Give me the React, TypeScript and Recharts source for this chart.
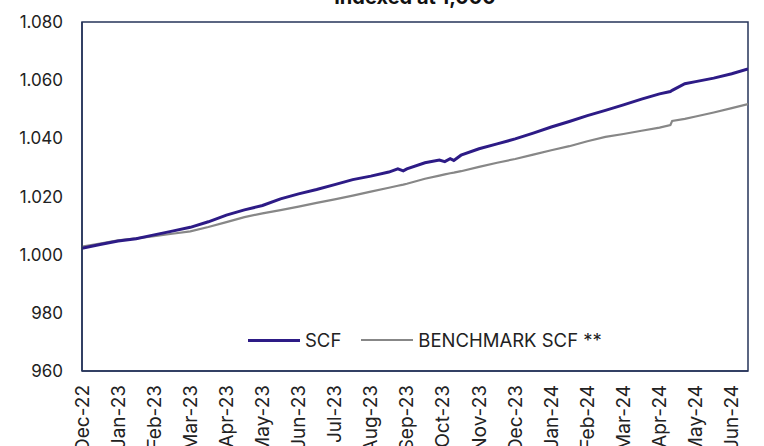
import React from 'react';
import {
  LineChart,
  Line,
  XAxis,
  YAxis,
  ReferenceArea,
} from 'recharts';

// month labels, one per tick (tick index = month offset from Dec-22)
const monthLabels = [
  'Dec-22', 'Jan-23', 'Feb-23', 'Mar-23', 'Apr-23', 'May-23', 'Jun-23',
  'Jul-23', 'Aug-23', 'Sep-23', 'Oct-23', 'Nov-23', 'Dec-23', 'Jan-24',
  'Feb-24', 'Mar-24', 'Apr-24', 'May-24', 'Jun-24',
];

// sample positions in months since Dec-22
const monthPos = [
  0, 0.5, 1, 1.5, 2, 2.5, 3, 3.5, 4, 4.5, 5, 5.5, 6, 6.5, 7, 7.5, 8, 8.5,
  8.75, 8.9, 9, 9.5, 9.9, 10.05, 10.2, 10.3, 10.5, 11, 11.5, 12, 12.5, 13,
  13.5, 14, 14.5, 15, 15.5, 16, 16.3, 16.35, 16.7, 17, 17.5, 18, 18.45,
];

const scfValues = [
  1002.2, 1003.5, 1004.7, 1005.5, 1006.8, 1008.1, 1009.4, 1011.3, 1013.6,
  1015.4, 1016.9, 1019.2, 1020.9, 1022.4, 1024.1, 1025.8, 1027.0, 1028.4,
  1029.5, 1028.8, 1029.5, 1031.6, 1032.5, 1032.0, 1033.0, 1032.4, 1034.2,
  1036.4, 1038.1, 1039.8, 1041.8, 1043.9, 1045.8, 1047.8, 1049.6, 1051.5,
  1053.5, 1055.3, 1056.1, 1056.5, 1058.8, 1059.5, 1060.7, 1062.2, 1063.9,
];

const benchValues = [
  1002.8, 1003.8, 1004.9, 1005.6, 1006.4, 1007.2, 1008.0, 1009.5, 1011.2,
  1012.9, 1014.2, 1015.3, 1016.5, 1017.8, 1019.0, 1020.3, 1021.7, 1023.0,
  1023.7, 1024.1, 1024.4, 1026.1, 1027.2, 1027.6, 1028.0, 1028.2, 1028.7,
  1030.2, 1031.6, 1032.9, 1034.4, 1035.9, 1037.3, 1039.0, 1040.5, 1041.5,
  1042.6, 1043.7, 1044.6, 1046.0, 1046.7, 1047.5, 1048.9, 1050.4, 1051.8,
];

const yTicks = [960, 980, 1000, 1020, 1040, 1060, 1080];

const data = monthPos.map((m, i) => ({
  m,
  scf: scfValues[i],
  bench: benchValues[i],
}));

const FRAME = '#26345a';
const SCF_COLOR = '#2d1b86';
const BENCH_COLOR = '#878787';
const FONT = 'Inter, "Liberation Sans", Arial, sans-serif';

function formatY(v: number) {
  if (v >= 1000) return `1.${String(v - 1000).padStart(3, '0')}`;
  return String(v);
}

function MonthTick({ x, y, payload }: any) {
  const ty = y + 12;
  return (
    <text
      x={x}
      y={ty}
      transform={`rotate(-90 ${x} ${ty})`}
      textAnchor="end"
      dominantBaseline="central"
      fontSize={19}
      fontFamily={FONT}
      fill="#222"
    >
      {monthLabels[payload.value]}
    </text>
  );
}

// legend drawn as plain html so it doesn't steal room from the plot
function LegendBox() {
  const items = [
    { label: 'SCF', color: SCF_COLOR, w: 3 },
    { label: 'BENCHMARK SCF **', color: BENCH_COLOR, w: 2.2 },
  ];
  return (
    <div style={{ position: 'absolute', left: 248, top: 330, display: 'flex', alignItems: 'center', gap: 20, fontFamily: FONT, fontSize: 18.5, lineHeight: '20px', color: '#222' }}>
      {items.map((it) => (
        <div key={it.label} style={{ display: 'flex', alignItems: 'center', gap: 5 }}>
          <div style={{ width: 52, height: it.w, background: it.color }} />
          <span>{it.label}</span>
        </div>
      ))}
    </div>
  );
}

export default function App() {
  return (
    <div style={{ position: 'absolute', left: 0, top: 0, width: 764, height: 446, background: '#fff', overflow: 'hidden' }}>
      <LineChart
        width={764}
        height={446}
        data={data}
        margin={{ top: 22, right: 16, left: 0, bottom: 0 }}
      >
        <XAxis
          dataKey="m"
          type="number"
          domain={[0, 18.45]}
          ticks={monthLabels.map((_, i) => i)}
          interval={0}
          allowDataOverflow
          height={75}
          tickLine={false}
          tickSize={0}
          axisLine={{ stroke: FRAME, strokeWidth: 1.5 }}
          tick={<MonthTick />}
        />
        <YAxis
          domain={[960, 1080]}
          ticks={yTicks}
          interval={0}
          width={82}
          tickLine={false}
          tickSize={0}
          tickMargin={19}
          axisLine={{ stroke: FRAME, strokeWidth: 1.5 }}
          tickFormatter={formatY}
          tick={{ fontSize: 17, fontFamily: FONT, fill: '#222' }}
        />
        <ReferenceArea
          x1={0}
          x2={18.45}
          y1={960}
          y2={1080}
          fill="none"
          stroke={FRAME}
          strokeWidth={1.5}
          ifOverflow="visible"
        />
        <Line
          type="linear"
          dataKey="bench"
          name="BENCHMARK SCF **"
          stroke={BENCH_COLOR}
          strokeWidth={2.2}
          dot={false}
          isAnimationActive={false}
        />
        <Line
          type="linear"
          dataKey="scf"
          name="SCF"
          stroke={SCF_COLOR}
          strokeWidth={3}
          dot={false}
          isAnimationActive={false}
        />
      </LineChart>
      <LegendBox />
      <div
        style={{
          position: 'absolute',
          left: 82,
          width: 666,
          top: -12,
          textAlign: 'center',
          fontFamily: FONT,
          fontWeight: 700,
          fontSize: 20,
          lineHeight: '18px',
          color: '#111',
        }}
      >
        Indexed at 1,000
      </div>
    </div>
  );
}
